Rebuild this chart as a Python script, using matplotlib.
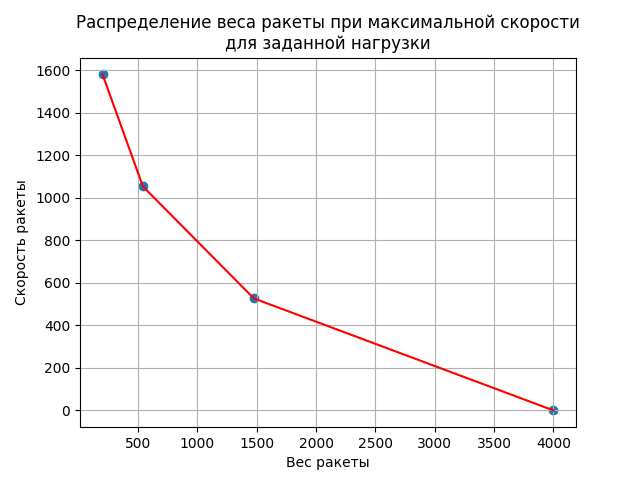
import matplotlib
matplotlib.use("Agg")
import matplotlib.pyplot as plt

weights = [200, 540, 1475, 4000]
speeds = [1581, 1054, 527, 0]

fig, ax = plt.subplots(figsize=(6.4, 4.8), dpi=100)
ax.scatter(weights, speeds)
ax.plot(weights, speeds, color="red")
ax.set_title("Распределение веса ракеты при максимальной скорости\nдля заданной нагрузки")
ax.set_xlabel("Вес ракеты")
ax.set_ylabel("Скорость ракеты")
ax.grid(True)
fig.savefig("out.png")
